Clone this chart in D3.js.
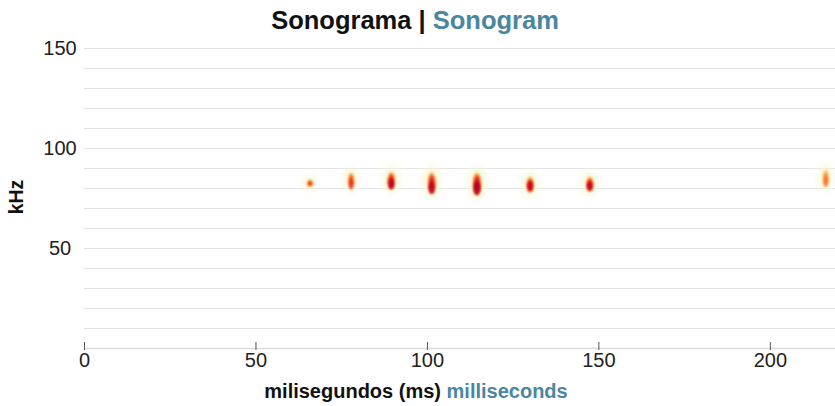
<!DOCTYPE html>
<html>
<head>
<meta charset="utf-8">
<script src="https://cdn.jsdelivr.net/npm/d3@7"></script>
<style>
  html, body { margin: 0; padding: 0; background: #fff; }
  svg { display: block; font-family: "Liberation Sans", Arial, Helvetica, sans-serif; }
</style>
</head>
<body>
<svg id="chart" width="835" height="406"></svg>
<script>
// Echolocation pulses: time of each call (ms) and its frequency extent (kHz)
const pulseTime      = [65.9, 77.9, 89.6, 101.4, 114.6, 130.1, 147.5, 216.3];
const pulseDuration  = [1.5, 1.6, 2.0, 2.1, 2.3, 1.9, 1.9, 1.5];
const pulseTopKHz    = [84.5, 88.5, 89.0, 89.0, 89.0, 86.5, 86.5, 90.0];
const pulseBottomKHz = [80.5, 79.5, 79.0, 77.0, 76.0, 77.5, 78.0, 80.5];
const pulsePeakKHz   = [82.5, 81.5, 82.0, 80.0, 80.0, 81.0, 81.0, 83.0];
const pulseEnergy    = [0.64, 0.68, 0.8, 0.8, 0.84, 0.78, 0.78, 0.52];

const xTicks = [0, 50, 100, 150, 200];
const yTickLabels = [50, 100, 150];
const yGrid = d3.range(10, 151, 10);

const W = 835, H = 406;
const svg = d3.select("#chart");

const x = d3.scaleLinear().domain([0, 219]).range([84, 835]);
const y = d3.scaleLinear().domain([0, 150]).range([348, 48]);
const heat = d3.scaleSequential(d3.interpolateYlOrRd).domain([0, 1]);

// Title
const title = svg.append("text")
  .attr("x", 415).attr("y", 29)
  .attr("text-anchor", "middle")
  .style("font-size", "25.5px").style("font-weight", "bold");
title.append("tspan").attr("fill", "#111").text("Sonograma | ");
title.append("tspan").attr("fill", "#4a86a0").text("Sonogram");

// Horizontal grid
svg.append("g").selectAll("line").data(yGrid).join("line")
  .attr("x1", x(0)).attr("x2", W)
  .attr("y1", d => y(d) + 0.5).attr("y2", d => y(d) + 0.5)
  .attr("stroke", "#e3e3e3").attr("stroke-width", 1);

// Y axis labels
svg.append("g").selectAll("text").data(yTickLabels).join("text")
  .attr("x", 60).attr("y", d => y(d) + 7)
  .attr("text-anchor", "middle")
  .attr("fill", "#222")
  .style("font-size", "20px")
  .text(d => d);

svg.append("text")
  .attr("transform", `translate(23,197) rotate(-90)`)
  .attr("text-anchor", "middle")
  .attr("fill", "#111")
  .style("font-size", "19.5px").style("font-weight", "bold")
  .text("kHz");

// X axis
const xAxis = svg.append("g").attr("transform", `translate(0,${y(0)})`)
  .call(d3.axisBottom(x).tickValues(xTicks).tickSize(0).tickPadding(5));
xAxis.select(".domain").attr("stroke", "#dcdcdc").attr("stroke-width", 1.5);
xAxis.selectAll(".tick text")
  .attr("fill", "#222")
  .style("font-size", "20px")
  .style("font-family", "'Liberation Sans', Arial, sans-serif");
xAxis.selectAll(".tick").append("line")
  .attr("y1", -6).attr("y2", 2)
  .attr("stroke", "#555").attr("stroke-width", 1);

const xl = svg.append("text")
  .attr("x", 416).attr("y", 398)
  .attr("text-anchor", "middle")
  .style("font-size", "20px").style("font-weight", "bold");
xl.append("tspan").attr("fill", "#111").text("milisegundos (ms) ");
xl.append("tspan").attr("fill", "#4a86a0").text("milliseconds");

// Pulses
const defs = svg.append("defs");
defs.append("filter").attr("id", "soft")
  .attr("x", "-100%").attr("y", "-100%").attr("width", "300%").attr("height", "300%")
  .append("feGaussianBlur").attr("stdDeviation", 0.8);
defs.append("filter").attr("id", "haze")
  .attr("x", "-200%").attr("y", "-100%").attr("width", "500%").attr("height", "300%")
  .append("feGaussianBlur").attr("stdDeviation", 3);

const pulses = pulseTime.map((t, i) => ({
  t, dur: pulseDuration[i], top: pulseTopKHz[i], bottom: pulseBottomKHz[i],
  peak: pulsePeakKHz[i], e: pulseEnergy[i], i
}));

pulses.forEach(p => {
  const g = defs.append("radialGradient").attr("id", "pg" + p.i)
    .attr("cx", "50%").attr("cy", "58%").attr("r", "50%");
  g.append("stop").attr("offset", "0%").attr("stop-color", heat(p.e + 0.04));
  g.append("stop").attr("offset", "55%").attr("stop-color", heat(p.e * 0.88));
  g.append("stop").attr("offset", "85%").attr("stop-color", heat(p.e * 0.55));
  g.append("stop").attr("offset", "100%").attr("stop-color", heat(0.25)).attr("stop-opacity", 0.25);
});

const pg = svg.append("g").selectAll("g").data(pulses).join("g");

// faint surrounding energy
pg.append("ellipse")
  .attr("cx", d => x(d.t))
  .attr("cy", d => y((d.top + d.bottom) / 2))
  .attr("rx", d => (x(d.t + d.dur) - x(d.t - d.dur)) / 2 + 3)
  .attr("ry", d => (y(d.bottom) - y(d.top)) / 2 + 4)
  .attr("fill", "#f4f7d8").attr("opacity", 0.7)
  .attr("filter", "url(#haze)");

// pulse body
pg.append("ellipse")
  .attr("cx", d => x(d.t))
  .attr("cy", d => y((d.top + d.bottom) / 2))
  .attr("rx", d => (x(d.t + d.dur / 2) - x(d.t - d.dur / 2)) / 2 + 1)
  .attr("ry", d => (y(d.bottom) - y(d.top)) / 2)
  .attr("fill", d => `url(#pg${d.i})`)
  .attr("filter", "url(#soft)");

// strongest energy at the peak frequency
pg.append("ellipse")
  .attr("cx", d => x(d.t))
  .attr("cy", d => y(d.peak))
  .attr("rx", d => (x(d.t + d.dur / 2) - x(d.t - d.dur / 2)) / 2 - 0.5)
  .attr("ry", d => (y(d.bottom) - y(d.top)) / 4)
  .attr("fill", d => heat(d.e + 0.08))
  .attr("opacity", d => d.e > 0.7 ? 0.75 : 0.45)
  .attr("filter", "url(#soft)");
</script>
</body>
</html>
